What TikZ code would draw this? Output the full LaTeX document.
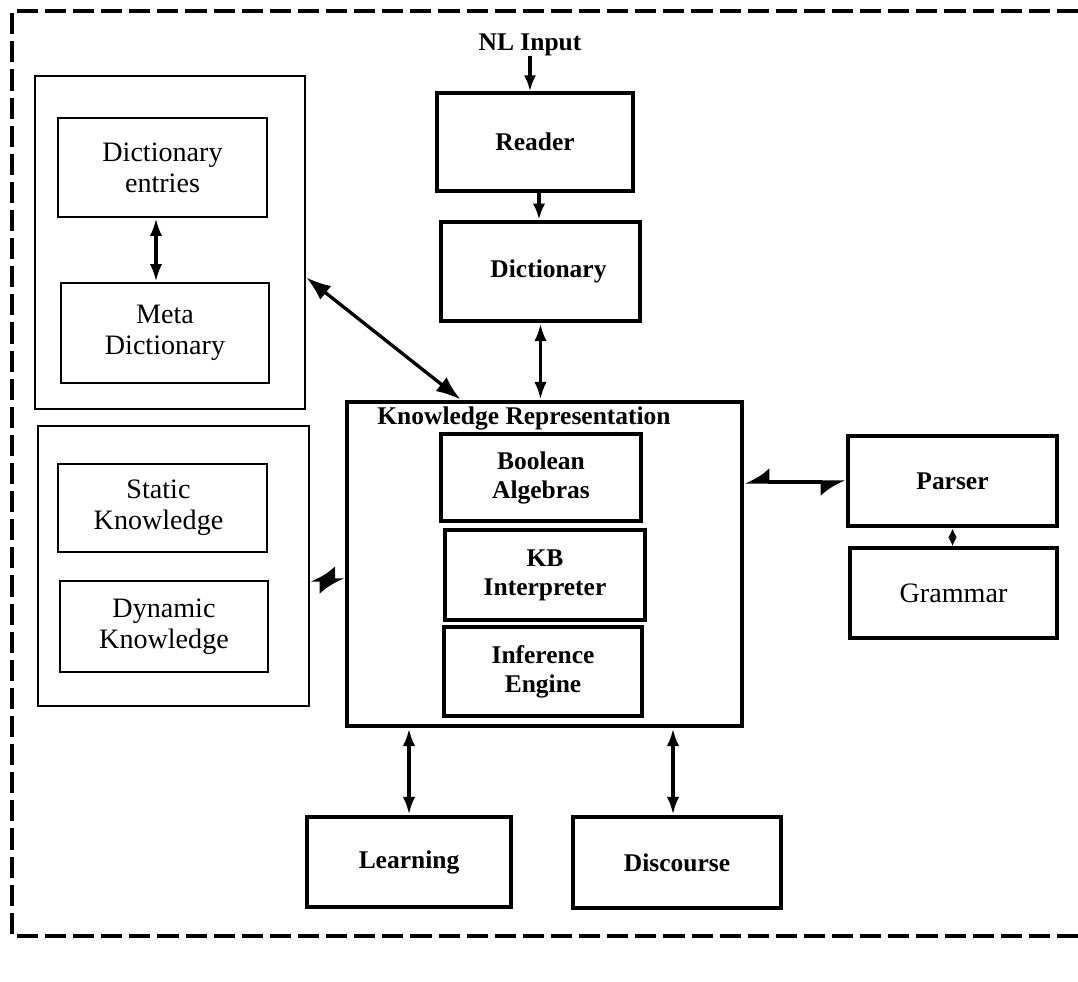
\documentclass[tikz,border=0pt]{standalone}
\usepackage{fontspec}
\setmainfont{Liberation Serif}
\usetikzlibrary{arrows.meta,fit,calc}
\tikzset{
  reg/.style={font=\fontsize{16}{17.5}\selectfont, align=center, inner sep=0pt},
  bld/.style={font=\bfseries\fontsize{14.5}{16.5}\selectfont, align=center, inner sep=0pt},
  thinbox/.style={draw, line width=1.5pt, inner sep=0pt},
  medbox/.style={draw, line width=2.1pt, inner sep=0pt},
  thickbox/.style={draw, line width=2.8pt, inner sep=0pt},
  conn/.style={line width=1.9pt},
  vdbl/.style={conn, {Latex[length=10pt,width=7pt]}-{Latex[length=10pt,width=7pt]}},
  sdbl/.style={conn, {Latex[length=5pt,width=5pt]}-{Latex[length=5pt,width=5pt]}},
  ddbl/.style={conn, {Latex[length=14pt,width=10pt]}-{Latex[length=14pt,width=10pt]}},
  hdbl/.style={conn, {Latex[harpoon,swap,length=12pt,width=16pt]}-{Latex[harpoon,swap,length=12pt,width=16pt]}},
  single/.style={conn, -{Latex[length=9pt,width=7pt]}},
  border/.style={line width=1.8pt, dash pattern=on 12pt off 4pt}
}
\begin{document}
\begin{tikzpicture}[x=0.02cm, y=-0.02cm]
\useasboundingbox (0,0) rectangle (1078,981);
\draw[border] (1078,11) -- (12,11) -- (12,936) -- (1078,936);

% dictionary group
\node[thinbox, fit={(35,76)(305,409)}] (dout) {};
\node[thinbox, fit={(58,118)(267,217)}] (entries) {};
\node[reg] at (entries.center) {Dictionary\\entries};
\node[thinbox, fit={(61,283)(269,383)}] (meta) {};
\node[reg] at (meta.center) {Meta\\Dictionary};

% knowledge group
\node[thinbox, fit={(38,426)(309,706)}] (kout) {};
\node[thinbox, fit={(58,464)(267,552)}] (static) {};
\node[reg] at ($(static.center)+(-4,0)$) {Static\\Knowledge};
\node[thinbox, fit={(60,581)(268,672)}] (dyn) {};
\node[reg] at (dyn.center) {Dynamic\\Knowledge};

% input chain
\node[bld] (nl) at (530,45) {NL Input};
\node[medbox, fit={(437,93)(633,191)}] (reader) {};
\node[bld] at (reader.center) {Reader};
\node[thickbox, fit={(441,222)(640,321)}] (dict) {};
\node[bld] at ($(dict.center)+(8,0)$) {Dictionary};

% knowledge representation
\node[thickbox, fit={(347,402)(742,726)}] (kr) {};
\node[bld] (krt) at (524,418) {Knowledge Representation};
\node[thickbox, fit={(441,434)(641,521)}] (bool) {};
\node[bld] at (bool.center) {Boolean\\Algebras};
\node[thickbox, fit={(445,530)(645,620)}] (kb) {};
\node[bld] at (kb.center) {KB\\Interpreter};
\node[thickbox, fit={(444,627)(642,716)}] (inf) {};
\node[bld] at (inf.center) {Inference\\Engine};

% right side
\node[thickbox, fit={(848,436)(1057,526)}] (parser) {};
\node[bld] at (parser.center) {Parser};
\node[medbox, fit={(850,548)(1057,638)}] (grammar) {};
\node[reg] at (grammar.center) {Grammar};

% bottom
\node[thickbox, fit={(307,817)(511,907)}] (learn) {};
\node[bld] at (learn.center) {Learning};
\node[thickbox, fit={(573,817)(781,908)}] (disc) {};
\node[bld] at (disc.center) {Discourse};

% connectors
\draw[single] (nl.south) -- (nl.south |- reader.north);
\draw[single] ([xshift=0.08cm]reader.south) -- ([xshift=0.08cm]reader.south |- dict.north);
\draw[vdbl] (dict.south) -- (dict.south |- kr.north);
\draw[vdbl] ([xshift=-0.13cm]entries.south) -- ([xshift=-0.13cm]entries.south |- meta.north);
\coordinate (dA) at ($(dout.east)+(0,35)$);
\coordinate (dB) at ($(kr.north west)+(116,0)$);
\draw[ddbl] (dA) -- (dB);
\coordinate (kA) at ($(kout.east)+(0,14)$);
\draw[hdbl] (kA) -- (kA -| kr.west);
\coordinate (pA) at ($(parser.west)+(0,1)$);
\draw[hdbl] (pA -| kr.east) -- (pA);
\draw[sdbl] (parser.south) -- (parser.south |- grammar.north);
\draw[vdbl] (learn.north |- kr.south) -- (learn.north);
\draw[vdbl] ([xshift=-0.08cm]disc.north |- kr.south) -- ([xshift=-0.08cm]disc.north);
\end{tikzpicture}
\end{document}
